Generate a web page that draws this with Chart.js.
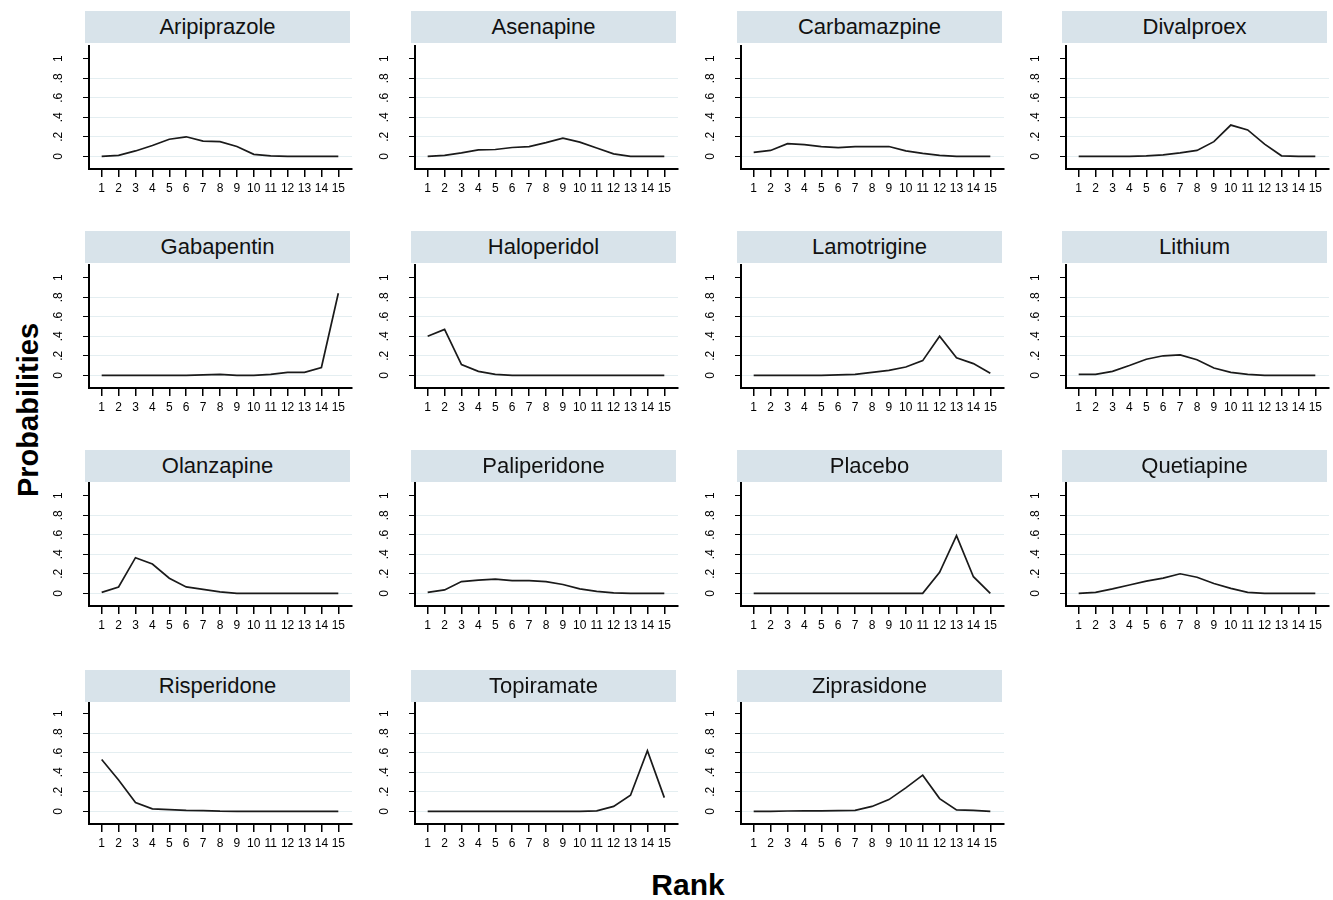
<!DOCTYPE html>
<html>
<head>
<meta charset="utf-8">
<script src="https://cdn.jsdelivr.net/npm/chart.js@4.4.1/dist/chart.umd.min.js"></script>
<style>
    body { margin: 0; background: #fff; font-family: "Liberation Sans", Arial, sans-serif; }
    #page { position: relative; width: 1333px; height: 900px; overflow: hidden; }
    .faixa {
        position: absolute; width: 265px; height: 32px; background: #d8e3ea;
        font-size: 22px; line-height: 32px; text-align: center; color: #111; z-index: 2;
    }
    canvas { position: absolute; }
    #tituloY {
        position: absolute; left: 28px; top: 410px; font-size: 29px; font-weight: bold;
        transform: translate(-50%, -50%) rotate(-90deg); white-space: nowrap;
    }
    #tituloX {
        position: absolute; left: 688px; top: 885px; font-size: 30px; font-weight: bold;
        transform: translate(-50%, -50%); white-space: nowrap;
    }
</style>
</head>
<body>
<div id="page">
    <div id="tituloY">Probabilities</div>
    <div id="tituloX">Rank</div>
</div>
<script>
// Dados (probabilidade de cada posição no ranking)
const ranks = [1, 2, 3, 4, 5, 6, 7, 8, 9, 10, 11, 12, 13, 14, 15];
const yTicks = [0, 0.2, 0.4, 0.6, 0.8, 1];
const yTickLabels = ['0', '.2', '.4', '.6', '.8', '1'];

const drogas = ['Aripiprazole', 'Asenapine', 'Carbamazpine', 'Divalproex',
    'Gabapentin', 'Haloperidol', 'Lamotrigine', 'Lithium',
    'Olanzapine', 'Paliperidone', 'Placebo', 'Quetiapine',
    'Risperidone', 'Topiramate', 'Ziprasidone'];

const aripiprazole = [0, 0.01, 0.055, 0.11, 0.175, 0.20, 0.155, 0.15, 0.10, 0.02, 0.005, 0, 0, 0, 0];
const asenapine = [0, 0.01, 0.035, 0.065, 0.07, 0.09, 0.10, 0.14, 0.185, 0.145, 0.085, 0.025, 0, 0, 0];
const carbamazpine = [0.04, 0.06, 0.13, 0.12, 0.10, 0.09, 0.10, 0.10, 0.10, 0.055, 0.03, 0.01, 0, 0, 0];
const divalproex = [0, 0, 0, 0, 0.005, 0.015, 0.035, 0.06, 0.15, 0.32, 0.27, 0.125, 0.005, 0, 0];
const gabapentin = [0, 0, 0, 0, 0, 0, 0.005, 0.01, 0, 0, 0.01, 0.03, 0.03, 0.08, 0.84];
const haloperidol = [0.40, 0.47, 0.11, 0.04, 0.01, 0, 0, 0, 0, 0, 0, 0, 0, 0, 0];
const lamotrigine = [0, 0, 0, 0, 0, 0.005, 0.01, 0.03, 0.05, 0.085, 0.15, 0.40, 0.18, 0.12, 0.02];
const lithium = [0.01, 0.01, 0.04, 0.10, 0.165, 0.20, 0.21, 0.16, 0.075, 0.03, 0.01, 0, 0, 0, 0];
const olanzapine = [0.01, 0.065, 0.365, 0.30, 0.155, 0.065, 0.04, 0.015, 0, 0, 0, 0, 0, 0, 0];
const paliperidone = [0.01, 0.035, 0.12, 0.135, 0.145, 0.13, 0.13, 0.12, 0.09, 0.045, 0.02, 0.005, 0, 0, 0];
const placebo = [0, 0, 0, 0, 0, 0, 0, 0, 0, 0, 0, 0.215, 0.59, 0.17, 0];
const quetiapine = [0, 0.01, 0.045, 0.085, 0.125, 0.155, 0.20, 0.165, 0.10, 0.05, 0.01, 0, 0, 0, 0];
const risperidone = [0.53, 0.32, 0.09, 0.025, 0.018, 0.01, 0.008, 0.002, 0, 0, 0, 0, 0, 0, 0];
const topiramate = [0, 0, 0, 0, 0, 0, 0, 0, 0, 0, 0.005, 0.05, 0.165, 0.62, 0.14];
const ziprasidone = [0, 0, 0.003, 0.005, 0.005, 0.008, 0.01, 0.05, 0.12, 0.24, 0.37, 0.13, 0.015, 0.01, 0];

const series = [aripiprazole, asenapine, carbamazpine, divalproex,
    gabapentin, haloperidol, lamotrigine, lithium,
    olanzapine, paliperidone, placebo, quetiapine,
    risperidone, topiramate, ziprasidone];

// posição das faixas de título (coluna / linha)
const colunas = [85, 411, 737, 1062];
const linhas = [11, 231, 450, 670];
const zeros = [156, 375, 593, 811];

// rótulos do eixo y girados, como no Stata
const rotulosY = {
    id: 'rotulosY',
    afterDraw(chart) {
        const s = chart.scales.y;
        const c = chart.ctx;
        c.save();
        c.fillStyle = '#000';
        c.font = '12px "Liberation Sans", Arial';
        c.textAlign = 'center';
        c.textBaseline = 'middle';
        for (let i = 0; i < yTicks.length; i++) {
            const py = s.getPixelForValue(yTicks[i]);
            c.save();
            c.translate(chart.chartArea.left - 30, py);
            c.rotate(-Math.PI / 2);
            c.fillText(yTickLabels[i], 0, 0);
            c.restore();
        }
        c.restore();
    }
};

const page = document.getElementById('page');

for (let i = 0; i < drogas.length; i++) {
    const col = i % 4;
    const lin = Math.floor(i / 4);
    const x0 = colunas[col];

    const faixa = document.createElement('div');
    faixa.className = 'faixa';
    faixa.style.left = x0 + 'px';
    faixa.style.top = linhas[lin] + 'px';
    faixa.textContent = drogas[i];
    page.appendChild(faixa);

    const cv = document.createElement('canvas');
    cv.width = 315;
    cv.height = 169;
    cv.style.left = (x0 - 40) + 'px';
    cv.style.top = (zeros[lin] - 112.5) + 'px';
    page.appendChild(cv);

    const pontos = ranks.map(function (r, k) { return { x: r, y: series[i][k] }; });

    new Chart(cv, {
        type: 'line',
        data: {
            datasets: [{
                data: pontos,
                borderColor: '#1a1a1a',
                borderWidth: 1.7,
                pointRadius: 0,
                tension: 0,
                fill: false
            }]
        },
        options: {
            responsive: false,
            animation: false,
            layout: { padding: { top: 2, right: 8, left: 0, bottom: 0 } },
            plugins: { legend: { display: false }, tooltip: { enabled: false } },
            scales: {
                x: {
                    type: 'linear',
                    min: 0.25,
                    max: 15.81,
                    afterBuildTicks: function (s) { s.ticks = ranks.map(function (v) { return { value: v }; }); },
                    afterFit: function (s) { s.height = 44; },
                    border: { display: true, color: '#000', width: 2 },
                    grid: { drawOnChartArea: false, drawTicks: true, tickLength: 8, tickColor: '#000', lineWidth: 1.5 },
                    ticks: {
                        autoSkip: false, maxRotation: 0, minRotation: 0, padding: 4,
                        color: '#000', font: { size: 12, family: '"Liberation Sans", Arial' },
                        callback: function (v) { return String(v); }
                    }
                },
                y: {
                    min: -0.13,
                    max: 1.13,
                    afterBuildTicks: function (s) { s.ticks = yTicks.map(function (v) { return { value: v }; }); },
                    afterFit: function (s) { s.width = 44; },
                    border: { display: true, color: '#000', width: 2 },
                    grid: {
                        drawTicks: true, tickLength: 6, tickColor: '#000', lineWidth: 1,
                        color: function (ctx) { return (ctx.tick && ctx.tick.value === 1) ? 'rgba(0,0,0,0)' : '#e4eef1'; }
                    },
                    ticks: { display: false }
                }
            }
        },
        plugins: [rotulosY]
    });
}
</script>
</body>
</html>
